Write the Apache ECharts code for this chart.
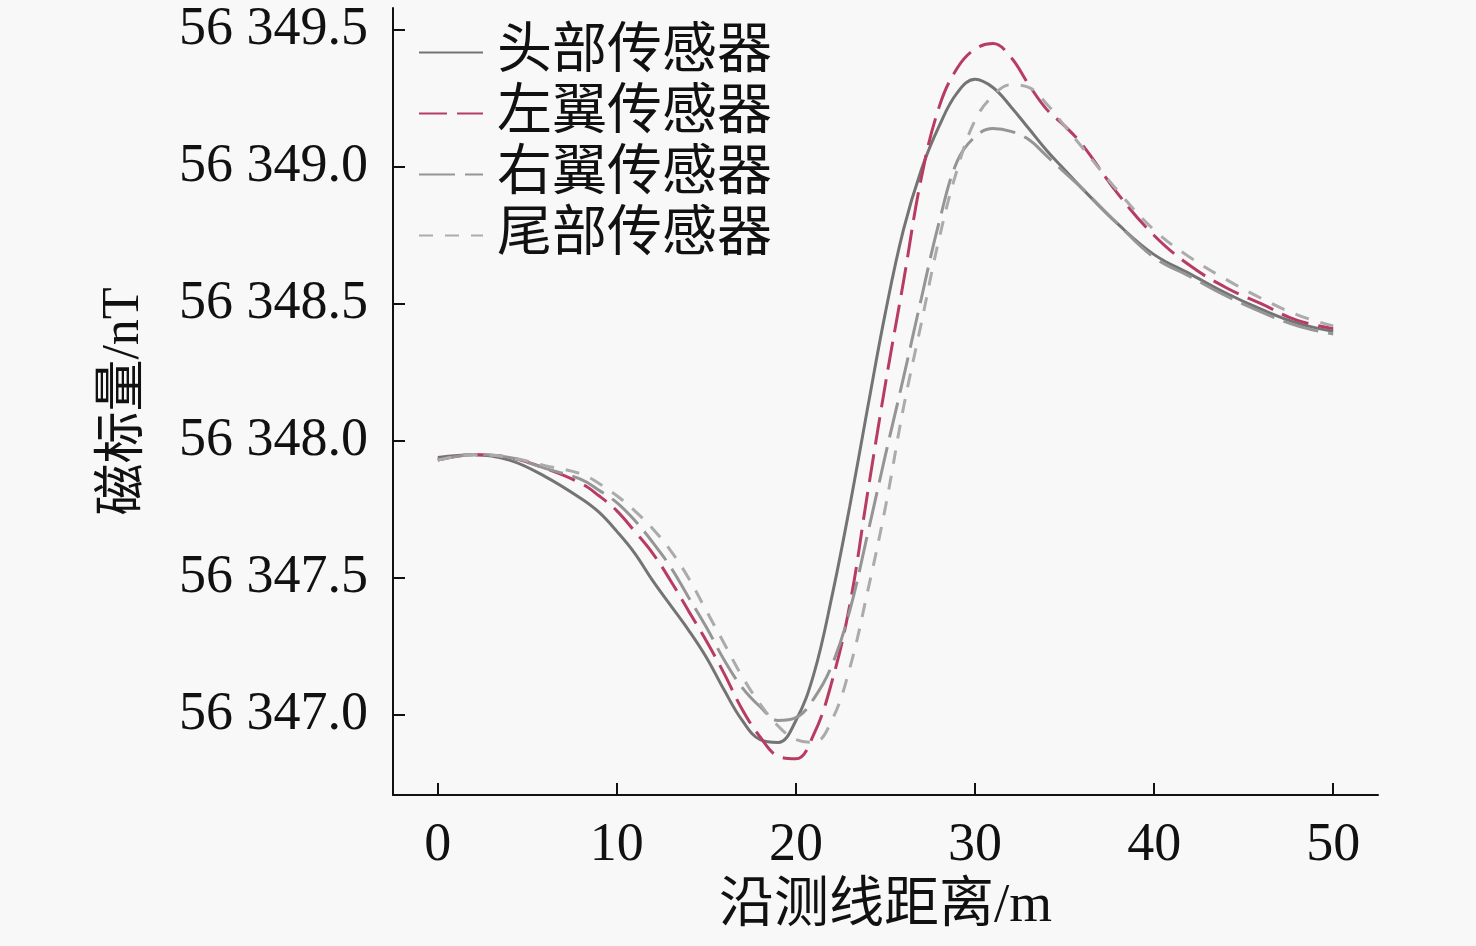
<!DOCTYPE html>
<html>
<head>
<meta charset="utf-8">
<script src="https://cdn.jsdelivr.net/npm/echarts@6/dist/echarts.min.js"></script>
<style>
  html, body { margin: 0; padding: 0; background: #f8f8f8; }
  #main { width: 1476px; height: 946px; }
</style>
</head>
<body>
<div id="main"></div>
<script>
var names = ['头部传感器', '左翼传感器', '右翼传感器', '尾部传感器'];
var dist = [0, 2, 4, 6, 8, 9, 10, 11, 12, 13, 14, 15, 16, 17, 18, 19, 20, 21, 22, 23, 24, 25,
  26, 27, 28, 29, 30, 31, 32, 33, 34, 35, 36, 38, 40, 42, 44, 46, 48, 50];
var head = [56347.94, 56347.95, 56347.93, 56347.87, 56347.79, 56347.74, 56347.67, 56347.59,
  56347.49, 56347.40, 56347.31, 56347.21, 56347.09, 56346.98, 56346.91, 56346.90, 56346.98,
  56347.15, 56347.43, 56347.76, 56348.12, 56348.47, 56348.77, 56348.99, 56349.15, 56349.27,
  56349.32, 56349.29, 56349.22, 56349.14, 56349.06, 56348.99, 56348.92, 56348.79, 56348.68,
  56348.61, 56348.54, 56348.48, 56348.43, 56348.40];
var leftWing = [56347.93, 56347.95, 56347.94, 56347.90, 56347.845, 56347.80, 56347.745, 56347.67,
  56347.59, 56347.49, 56347.38, 56347.27, 56347.15, 56347.02, 56346.92, 56346.85, 56346.84,
  56346.93, 56347.12, 56347.40, 56347.81, 56348.21, 56348.58, 56348.96, 56349.22, 56349.36,
  56349.43, 56349.45, 56349.40, 56349.30, 56349.21, 56349.15, 56349.08, 56348.90, 56348.75,
  56348.64, 56348.56, 56348.50, 56348.44, 56348.41];
var rightWing = [56347.93, 56347.95, 56347.94, 56347.90, 56347.86, 56347.82, 56347.775, 56347.71,
  56347.63, 56347.54, 56347.43, 56347.32, 56347.20, 56347.10, 56347.03, 56346.98, 56346.99,
  56347.06, 56347.18, 56347.38, 56347.66, 56347.95, 56348.23, 56348.52, 56348.80, 56349.02,
  56349.11, 56349.14, 56349.13, 56349.10, 56349.04, 56348.98, 56348.92, 56348.79, 56348.67,
  56348.60, 56348.53, 56348.47, 56348.42, 56348.39];
var tail = [56347.93, 56347.95, 56347.94, 56347.91, 56347.88, 56347.845, 56347.80, 56347.745,
  56347.68, 56347.60, 56347.50, 56347.38, 56347.26, 56347.14, 56347.04, 56346.96, 56346.91,
  56346.90, 56346.98, 56347.17, 56347.45, 56347.76, 56348.12, 56348.43, 56348.74, 56348.99,
  56349.17, 56349.26, 56349.30, 56349.29, 56349.23, 56349.15, 56349.07, 56348.91, 56348.77,
  56348.67, 56348.59, 56348.52, 56348.46, 56348.42];
var xTicks = [0, 10, 20, 30, 40, 50];
var yTicks = [56347.0, 56347.5, 56348.0, 56348.5, 56349.0, 56349.5];

function pairs(ys) {
  var out = [];
  for (var i = 0; i < dist.length; i++) {
    out.push([dist[i], ys[i]]);
  }
  return out;
}

var chart = echarts.init(document.getElementById('main'));
var serif = '"Liberation Serif", "Times New Roman", serif';
var cjk = '"Liberation Serif", "Noto Sans CJK SC", serif';

var option = {
  animation: false,
  backgroundColor: '#f8f8f8',
  grid: { left: 393, right: 98, top: 8, bottom: 151 },
  legend: {
    orient: 'vertical',
    left: 413,
    top: 20,
    itemWidth: 64,
    itemHeight: 14,
    itemGap: 6,
    itemStyle: { opacity: 0 },
    textStyle: { fontFamily: cjk, fontSize: 55, color: '#111', lineHeight: 55, padding: [0, 0, 0, 9] },
    data: names
  },
  xAxis: {
    type: 'value',
    min: -2.5,
    max: 52.5,
    name: '沿测线距离/m',
    nameLocation: 'middle',
    nameGap: 84,
    nameTextStyle: { fontFamily: cjk, fontSize: 55, color: '#111' },
    axisLine: { onZero: false, lineStyle: { color: '#111', width: 2 } },
    axisTick: { inside: true, length: 12, customValues: xTicks, lineStyle: { color: '#111', width: 2 } },
    axisLabel: { customValues: xTicks, fontFamily: serif, fontSize: 54, color: '#111', margin: 24 },
    splitLine: { show: false }
  },
  yAxis: {
    type: 'value',
    min: 56346.708,
    max: 56349.58,
    name: '磁标量/nT',
    nameLocation: 'middle',
    nameGap: 243,
    nameTextStyle: { fontFamily: cjk, fontSize: 52, color: '#111' },
    axisLine: { show: true, onZero: false, lineStyle: { color: '#111', width: 2 } },
    axisTick: { show: true, inside: true, length: 12, customValues: yTicks, lineStyle: { color: '#111', width: 2 } },
    axisLabel: {
      customValues: yTicks,
      fontFamily: serif,
      fontSize: 54,
      color: '#111',
      margin: 25,
      formatter: function (v) { return '56 ' + (v - 56000).toFixed(1); }
    },
    splitLine: { show: false }
  },
  series: [
    {
      name: names[0], type: 'line', smooth: 0.4, symbol: 'none',
      lineStyle: { color: '#747474', width: 3, type: 'solid' },
      itemStyle: { color: '#747474' },
      data: pairs(head)
    },
    {
      name: names[1], type: 'line', smooth: 0.4, symbol: 'none',
      lineStyle: { color: '#b83c62', width: 3, type: [28, 10] },
      itemStyle: { color: '#b83c62' },
      data: pairs(leftWing)
    },
    {
      name: names[2], type: 'line', smooth: 0.4, symbol: 'none',
      lineStyle: { color: '#959595', width: 3, type: [36, 10] },
      itemStyle: { color: '#959595' },
      data: pairs(rightWing)
    },
    {
      name: names[3], type: 'line', smooth: 0.4, symbol: 'none',
      lineStyle: { color: '#ababab', width: 3, type: [14, 12] },
      itemStyle: { color: '#ababab' },
      data: pairs(tail)
    }
  ]
};

chart.setOption(option);
</script>
</body>
</html>
